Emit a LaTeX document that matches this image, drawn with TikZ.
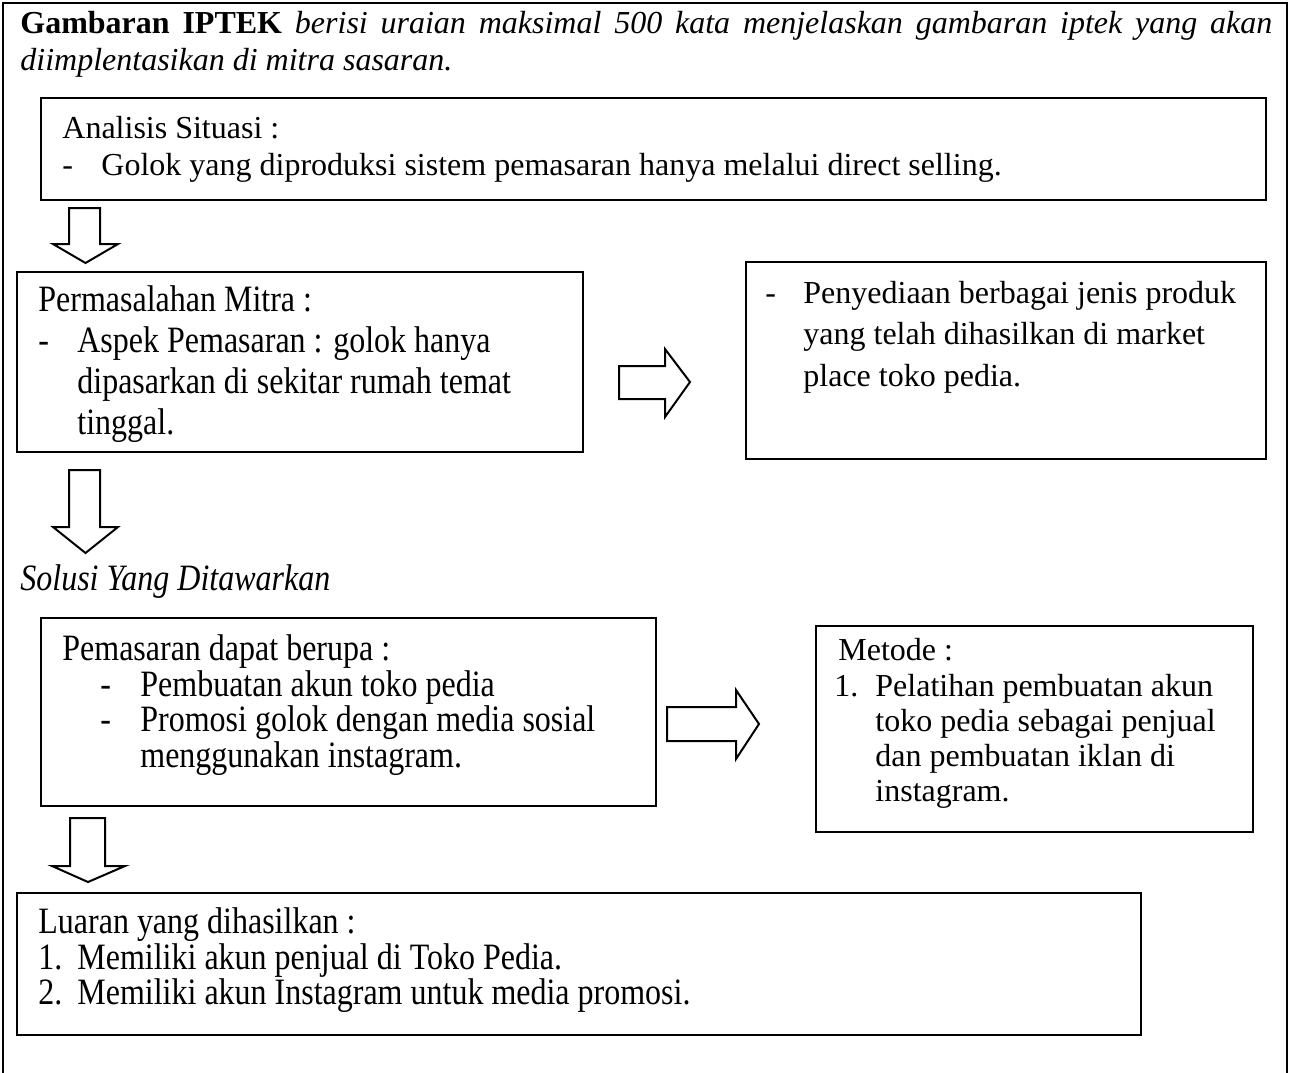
\documentclass[tikz,border=0pt]{standalone}
\usepackage{fontspec}
\setmainfont{Liberation Serif}
\newfontfamily\tallfam[FakeStretch=0.86]{Liberation Serif}
\usetikzlibrary{fit}
\newcommand\txtn{\fontsize{16}{19}\selectfont}
\newcommand\txtt{\tallfam\fontsize{18.6}{22}\selectfont}
\tikzset{
  box/.style={draw, line width=1pt, inner sep=0pt},
  lbl/.style={anchor=base west, inner sep=0pt, font=\txtn},
  tlbl/.style={anchor=base west, inner sep=0pt, font=\txtt},
  blk/.style={draw, line width=1pt, fill=white, line join=miter},
  frame/.style={draw, line width=1pt}
}
\begin{document}
\begin{tikzpicture}[x=0.5pt, y=-0.5pt]
\useasboundingbox (0,0) rectangle (1290,1072);
% outer frame (open at bottom)
\draw[frame] (3,1080) -- (3,3) -- (1287,3) -- (1287,1080);

% title
\node[lbl] (t1) at (20,33) {\makebox[626pt][s]{\textbf{Gambaran IPTEK} \textit{berisi uraian maksimal 500 kata menjelaskan gambaran iptek yang akan}}};
\node[lbl] (t2) at (20,70) {\textit{diimplentasikan di mitra sasaran.}};

% boxes
\coordinate (a1) at (41,98);   \coordinate (a2) at (1266,200);
\coordinate (b1) at (17,272);  \coordinate (b2) at (583,452);
\coordinate (c1) at (746,262); \coordinate (c2) at (1266,459);
\coordinate (d1) at (41,618);  \coordinate (d2) at (656,806);
\coordinate (e1) at (816,626); \coordinate (e2) at (1253,832);
\coordinate (f1) at (17,893);  \coordinate (f2) at (1141,1035);
\node[box, fit=(a1)(a2)] (boxA) {};
\node[box, fit=(b1)(b2)] (boxB) {};
\node[box, fit=(c1)(c2)] (boxC) {};
\node[box, fit=(d1)(d2)] (boxD) {};
\node[box, fit=(e1)(e2)] (boxE) {};
\node[box, fit=(f1)(f2)] (boxF) {};

% box A text
\node[lbl] (a-h) at (62,138) {Analisis Situasi :};
\node[lbl] (a-d) at (62,175) {-};
\node[lbl] (a-l) at (101,175) {Golok yang diproduksi sistem pemasaran hanya melalui direct selling.};

% box B text
\node[tlbl] (b-h) at (38,311) {Permasalahan Mitra :};
\node[tlbl] (b-d) at (38,352) {-};
\node[tlbl] (b-l1) at (77,352) {Aspek Pemasaran : golok hanya};
\node[tlbl] (b-l2) at (77,393) {dipasarkan di sekitar rumah temat};
\node[tlbl] (b-l3) at (77,434) {tinggal.};

% box C text
\node[lbl] (c-d) at (765,303) {-};
\node[lbl] (c-l1) at (803,303) {Penyediaan berbagai jenis produk};
\node[lbl] (c-l2) at (803,344) {yang telah dihasilkan di market};
\node[lbl] (c-l3) at (803,386) {place toko pedia.};

% solusi
\node[tlbl] (sol) at (20,590) {\textit{Solusi Yang Ditawarkan}};

% box D text
\node[tlbl] (d-h) at (62,660) {Pemasaran dapat berupa :};
\node[tlbl] (d-d1) at (100,696) {-};
\node[tlbl] (d-l1) at (140,696) {Pembuatan akun toko pedia};
\node[tlbl] (d-d2) at (100,731) {-};
\node[tlbl] (d-l2) at (140,731) {Promosi golok dengan media sosial};
\node[tlbl] (d-l3) at (140,767) {menggunakan instagram.};

% box E text
\node[lbl] (e-h) at (838,660) {Metode :};
\node[lbl] (e-n) at (834,696) {1.};
\node[lbl] (e-l1) at (875,696) {Pelatihan pembuatan akun};
\node[lbl] (e-l2) at (875,731) {toko pedia sebagai penjual};
\node[lbl] (e-l3) at (875,766) {dan pembuatan iklan di};
\node[lbl] (e-l4) at (875,801) {instagram.};

% box F text
\node[tlbl] (f-h) at (38,933) {Luaran yang dihasilkan :};
\node[tlbl] (f-n1) at (38,969) {1.};
\node[tlbl] (f-l1) at (77,969) {Memiliki akun penjual di Toko Pedia.};
\node[tlbl] (f-n2) at (38,1004) {2.};
\node[tlbl] (f-l2) at (77,1004) {Memiliki akun Instagram untuk media promosi.};

% block arrows
\draw[blk] (69,208) -- (100,208) -- (100,244) -- (118,244) -- (85.5,263) -- (53,244) -- (69,244) -- cycle;
\draw[blk] (69,470) -- (100,470) -- (100,527) -- (118,527) -- (85.5,553) -- (53,527) -- (69,527) -- cycle;
\draw[blk] (70,818) -- (105,818) -- (105,866) -- (125,866) -- (88,882) -- (52,866) -- (70,866) -- cycle;
\draw[blk] (619,366) -- (665,366) -- (665,349) -- (690,382) -- (665,417) -- (665,399) -- (619,399) -- cycle;
\draw[blk] (667,707) -- (736,707) -- (736,690) -- (759,724) -- (736,759) -- (736,741) -- (667,741) -- cycle;
\end{tikzpicture}
\end{document}
